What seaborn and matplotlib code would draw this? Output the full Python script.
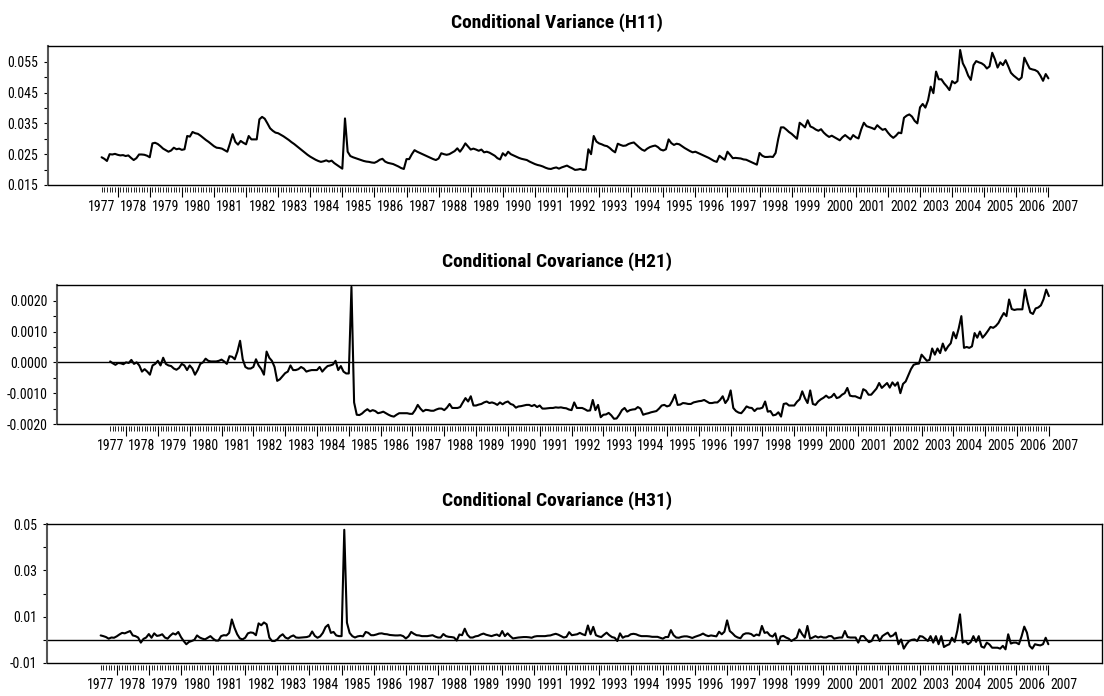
import numpy as np
import pandas as pd
import matplotlib
matplotlib.use("Agg")
import matplotlib.pyplot as plt
import seaborn as sns
from matplotlib import font_manager
from matplotlib.ticker import FixedLocator, FormatStrFormatter, NullLocator

sns.set_style("ticks")

# Prefer a condensed sans face; fall back to a regular one with smaller sizes.
_names = sorted({f.name for f in font_manager.fontManager.ttflist})
_preferred = ["Liberation Sans Narrow", "Arial Narrow", "Roboto Condensed",
              "Open Sans Condensed", "Noto Sans Condensed", "DejaVu Sans Condensed"]
_narrow = [n for n in _preferred if n in _names]
_narrow += [n for n in _names if ("Narrow" in n or "Condensed" in n) and n not in _narrow]
if _narrow:
    FONT = _narrow[0]
    TITLE_SIZE, YTICK_SIZE, YEAR_SIZE = 14, 10, 10
else:
    FONT = "Liberation Sans"
    TITLE_SIZE, YTICK_SIZE, YEAR_SIZE = 12.5, 8.5, 7.6
plt.rcParams["font.family"] = [FONT, "DejaVu Sans"]
plt.rcParams["text.color"] = "black"
plt.rcParams["xtick.color"] = "black"
plt.rcParams["ytick.color"] = "black"

# Monthly observations, July 1977 .. January 2007
first_obs = 1977.5

h11 = [
    0.0240, 0.0235, 0.0228, 0.0250, 0.0249, 0.0251,  # 1977 (Jul-Dec)
    0.0248, 0.0246, 0.0247, 0.0244, 0.0246, 0.0238, 0.0231, 0.0237, 0.0249, 0.0249, 0.0248, 0.0245,
    0.0240, 0.0285, 0.0287, 0.0283, 0.0276, 0.0268, 0.0263, 0.0258, 0.0262, 0.0271, 0.0266, 0.0268,
    0.0264, 0.0266, 0.0309, 0.0307, 0.0322, 0.0318, 0.0316, 0.0310, 0.0303, 0.0296, 0.0290, 0.0283,
    0.0276, 0.0271, 0.0270, 0.0268, 0.0263, 0.0258, 0.0285, 0.0315, 0.0290, 0.0281, 0.0293, 0.0287,
    0.0282, 0.0309, 0.0298, 0.0298, 0.0298, 0.0363, 0.0371, 0.0365, 0.0350, 0.0334, 0.0326, 0.0320,
    0.0318, 0.0313, 0.0308, 0.0302, 0.0296, 0.0289, 0.0283, 0.0276, 0.0269, 0.0262, 0.0255, 0.0248,
    0.0242, 0.0237, 0.0232, 0.0228, 0.0225, 0.0227, 0.0230, 0.0226, 0.0229, 0.0221, 0.0215, 0.0209,
    0.0203, 0.0366, 0.0258, 0.0244, 0.0240, 0.0237, 0.0234, 0.0231, 0.0228, 0.0226, 0.0225, 0.0223,
    0.0222, 0.0226, 0.0232, 0.0235, 0.0226, 0.0222, 0.0220, 0.0218, 0.0214, 0.0210, 0.0205, 0.0202,
    0.0234, 0.0234, 0.0250, 0.0263, 0.0258, 0.0254, 0.0250, 0.0246, 0.0242, 0.0238, 0.0234, 0.0231,
    0.0236, 0.0253, 0.0250, 0.0248, 0.0250, 0.0255, 0.0260, 0.0269, 0.0258, 0.0270, 0.0285, 0.0275,
    0.0265, 0.0268, 0.0265, 0.0261, 0.0265, 0.0256, 0.0258, 0.0255, 0.0250, 0.0245, 0.0237, 0.0233,
    0.0253, 0.0245, 0.0258, 0.0250, 0.0246, 0.0242, 0.0238, 0.0235, 0.0233, 0.0231, 0.0226, 0.0222,
    0.0218, 0.0215, 0.0213, 0.0210, 0.0206, 0.0203, 0.0202, 0.0205, 0.0207, 0.0203, 0.0207, 0.0210,
    0.0213, 0.0208, 0.0204, 0.0199, 0.0200, 0.0202, 0.0199, 0.0200, 0.0266, 0.0250, 0.0309, 0.0291,
    0.0285, 0.0282, 0.0278, 0.0276, 0.0270, 0.0262, 0.0256, 0.0284, 0.0280, 0.0277, 0.0278, 0.0283,
    0.0286, 0.0288, 0.0280, 0.0272, 0.0265, 0.0261, 0.0268, 0.0273, 0.0276, 0.0278, 0.0273, 0.0265,
    0.0262, 0.0266, 0.0298, 0.0286, 0.0280, 0.0284, 0.0282, 0.0276, 0.0270, 0.0265, 0.0260, 0.0256,
    0.0258, 0.0254, 0.0250, 0.0246, 0.0242, 0.0238, 0.0233, 0.0228, 0.0225, 0.0245, 0.0238, 0.0232,
    0.0258, 0.0248, 0.0237, 0.0238, 0.0237, 0.0236, 0.0233, 0.0232, 0.0228, 0.0224, 0.0220, 0.0216,
    0.0254, 0.0245, 0.0241, 0.0241, 0.0242, 0.0241, 0.0254, 0.0300, 0.0337, 0.0337, 0.0330, 0.0322,
    0.0316, 0.0308, 0.0300, 0.0352, 0.0345, 0.0337, 0.0360, 0.0340, 0.0336, 0.0330, 0.0326, 0.0331,
    0.0320, 0.0312, 0.0306, 0.0310, 0.0305, 0.0300, 0.0295, 0.0305, 0.0312, 0.0305, 0.0298, 0.0312,
    0.0305, 0.0301, 0.0330, 0.0352, 0.0341, 0.0338, 0.0335, 0.0331, 0.0344, 0.0336, 0.0329, 0.0332,
    0.0320, 0.0310, 0.0303, 0.0310, 0.0320, 0.0318, 0.0368, 0.0375, 0.0379, 0.0372, 0.0358, 0.0350,
    0.0402, 0.0413, 0.0401, 0.0425, 0.0469, 0.0448, 0.0518, 0.0493, 0.0493, 0.0480, 0.0470, 0.0458,
    0.0487, 0.0480, 0.0487, 0.0588, 0.0545, 0.0528, 0.0505, 0.0491, 0.0539, 0.0552, 0.0548, 0.0545,
    0.0539, 0.0528, 0.0535, 0.0579, 0.0558, 0.0531, 0.0548, 0.0539, 0.0555, 0.0535, 0.0514, 0.0505,
    0.0498, 0.0491, 0.0499, 0.0563, 0.0545, 0.0528, 0.0525, 0.0523, 0.0518, 0.0505, 0.0488, 0.0510,
    0.0496,  # 2007 (Jan)
]

# covariance H21, in units of 1e-3
h21_milli = [
    0.03, -0.03, -0.08, -0.02, -0.03, -0.06,
    0.00, -0.02, 0.08, -0.05, 0.00, -0.10, -0.30, -0.22, -0.30, -0.40, -0.10, -0.05,
    0.05, -0.10, 0.15, -0.05, -0.10, -0.12, -0.20, -0.24, -0.18, -0.05, -0.10, -0.25,
    -0.10, -0.20, -0.40, -0.25, -0.05, 0.00, 0.12, 0.05, 0.03, 0.03, 0.03, 0.05,
    0.09, 0.03, -0.05, 0.20, 0.18, 0.10, 0.35, 0.70, 0.10, -0.15, -0.20, -0.20,
    -0.15, 0.10, -0.10, -0.22, -0.40, 0.35, 0.15, 0.05, -0.15, -0.60, -0.55, -0.45,
    -0.35, -0.30, -0.10, -0.25, -0.25, -0.22, -0.15, -0.20, -0.30, -0.27, -0.25, -0.25,
    -0.25, -0.15, -0.30, -0.20, -0.12, -0.10, -0.07, 0.05, -0.25, -0.12, -0.30, -0.36,
    -0.36, 2.45, -1.30, -1.70, -1.71, -1.66, -1.58, -1.52, -1.59, -1.55, -1.58, -1.65,
    -1.63, -1.60, -1.65, -1.70, -1.74, -1.76, -1.70, -1.65, -1.65, -1.65, -1.65, -1.67,
    -1.67, -1.55, -1.38, -1.50, -1.59, -1.54, -1.55, -1.57, -1.57, -1.53, -1.50, -1.50,
    -1.55, -1.47, -1.35, -1.48, -1.48, -1.48, -1.45, -1.30, -1.16, -1.27, -1.10, -1.40,
    -1.40, -1.37, -1.35, -1.30, -1.27, -1.32, -1.30, -1.33, -1.38, -1.30, -1.36, -1.30,
    -1.27, -1.35, -1.38, -1.47, -1.43, -1.42, -1.40, -1.38, -1.38, -1.42, -1.38, -1.45,
    -1.40, -1.50, -1.50, -1.49, -1.48, -1.48, -1.46, -1.47, -1.46, -1.48, -1.49, -1.53,
    -1.55, -1.30, -1.48, -1.48, -1.48, -1.52, -1.57, -1.56, -1.22, -1.55, -1.38, -1.78,
    -1.70, -1.69, -1.64, -1.72, -1.83, -1.82, -1.70, -1.55, -1.48, -1.60, -1.55, -1.53,
    -1.52, -1.45, -1.50, -1.70, -1.67, -1.65, -1.62, -1.60, -1.58, -1.50, -1.40, -1.38,
    -1.43, -1.40, -1.25, -1.05, -1.38, -1.37, -1.32, -1.33, -1.35, -1.35, -1.30, -1.28,
    -1.26, -1.25, -1.22, -1.27, -1.32, -1.32, -1.30, -1.30, -1.22, -1.10, -1.32, -1.20,
    -0.91, -1.48, -1.58, -1.63, -1.65, -1.55, -1.43, -1.47, -1.48, -1.58, -1.50, -1.50,
    -1.47, -1.27, -1.60, -1.58, -1.72, -1.70, -1.62, -1.76, -1.35, -1.33, -1.40, -1.40,
    -1.40, -1.28, -1.20, -0.94, -1.16, -1.32, -0.91, -1.35, -1.38, -1.27, -1.20, -1.15,
    -1.08, -1.15, -1.12, -1.02, -1.16, -1.13, -1.05, -1.00, -0.83, -1.08, -1.10, -1.10,
    -1.14, -1.17, -0.87, -0.92, -1.05, -1.05, -0.95, -0.85, -0.67, -0.83, -0.75, -0.67,
    -0.82, -0.65, -0.76, -0.65, -1.00, -0.70, -0.62, -0.42, -0.22, -0.08, -0.05, -0.04,
    0.25, 0.15, 0.05, 0.08, 0.45, 0.25, 0.45, 0.30, 0.61, 0.38, 0.52, 0.62,
    0.98, 0.78, 1.10, 1.50, 0.47, 0.50, 0.47, 0.52, 0.95, 0.80, 1.00, 0.80,
    0.90, 1.02, 1.15, 1.12, 1.18, 1.28, 1.45, 1.60, 1.50, 2.04, 1.73, 1.70,
    1.72, 1.72, 1.72, 2.36, 1.95, 1.62, 1.57, 1.75, 1.78, 1.85, 2.05, 2.36,
    2.15,
]

# covariance H31, in units of 1e-3
h31_milli = [
    1.9, 1.6, 1.2, 0.5, 1.0, 0.9,
    1.5, 2.3, 3.0, 2.8, 3.3, 3.8, 1.9, 1.6, 1.0, -1.2, 0.4, 1.0,
    2.5, 0.9, 2.8, 1.7, 1.9, 2.4, 1.0, 0.5, 1.8, 2.8, 2.3, 3.4,
    1.2, -0.5, -1.9, -0.9, -0.5, 0.0, 1.9, 1.0, 0.5, 0.2, 0.9, 1.6,
    0.5, -0.3, -0.3, 1.6, 2.0, 1.9, 3.0, 8.8, 5.2, 2.4, 0.6, 0.2,
    0.9, 2.8, 3.2, 3.0, 2.0, 7.1, 6.3, 7.5, 6.7, 1.0, -0.5, -0.5,
    0.2, 1.6, 2.4, 1.0, 0.5, 1.4, 1.9, 1.0, 0.9, 1.0, 1.1, 1.2,
    1.6, 3.6, 1.7, 0.9, 1.5, 3.0, 5.5, 6.5, 3.0, 3.4, 1.9, 1.6,
    1.6, 47.5, 7.4, 3.0, 1.6, 1.0, 1.5, 1.7, 1.5, 3.4, 3.0, 2.0,
    2.0, 2.3, 2.7, 2.8, 2.5, 2.4, 2.1, 2.0, 1.9, 1.9, 2.0, 1.6,
    0.6, 1.5, 3.4, 2.6, 2.0, 1.9, 1.6, 1.6, 1.6, 1.8, 2.0, 1.4,
    1.0, 1.0, 2.5, 1.6, 1.3, 1.2, 1.0, -0.3, 2.3, 2.0, 4.8, 2.2,
    1.0, 1.0, 1.5, 1.7, 2.3, 2.7, 2.2, 1.9, 1.6, 2.0, 2.3, 1.6,
    3.8, 1.6, 2.8, 1.6, 0.6, 0.8, 1.0, 1.1, 1.2, 1.2, 1.1, 0.9,
    1.4, 1.6, 1.6, 1.6, 1.6, 1.8, 1.9, 2.3, 2.6, 2.2, 1.6, 1.0,
    1.3, 3.3, 2.0, 2.2, 2.4, 3.0, 2.4, 2.0, 6.2, 2.4, 5.6, 2.0,
    1.5, 1.2, 2.2, 3.1, 2.0, 1.2, 0.9, -0.5, 2.8, 0.9, 1.5, 1.6,
    2.4, 2.6, 2.4, 1.9, 1.6, 1.6, 1.6, 1.5, 1.3, 1.3, 1.3, 0.9,
    0.5, 1.2, 1.2, 4.2, 2.0, 1.0, 0.9, 1.3, 1.5, 1.5, 1.2, 0.8,
    1.3, 1.7, 2.1, 2.7, 2.0, 1.6, 1.9, 1.7, 1.5, 3.5, 2.4, 3.5,
    8.4, 3.8, 2.8, 1.6, 1.0, 0.7, 2.3, 2.8, 2.8, 2.5, 1.6, 2.3,
    1.9, 6.0, 3.0, 3.3, 1.9, 1.4, 2.8, -1.9, 1.4, 1.7, 1.0, 0.5,
    -0.5, 0.2, 1.0, 4.5, 2.5, 1.0, 6.0, 0.5, 1.0, 1.6, 1.0, 1.4,
    1.0, 1.0, 1.6, 1.6, 0.5, 0.8, 1.0, 1.0, 3.8, 1.2, 1.0, 1.0,
    1.0, -1.2, 1.6, 1.6, 0.2, -1.0, -0.5, 1.9, 2.0, -0.5, 1.6, 2.4,
    3.1, 1.4, 1.9, 3.1, -1.9, 0.2, -3.8, -1.9, -0.5, 0.0, 0.2, -0.5,
    1.6, 1.4, 0.5, -0.5, 1.6, -1.2, 1.6, -1.9, 1.6, -3.1, -2.4, -1.9,
    0.9, -0.9, 4.0, 11.0, -1.2, -0.5, -1.9, -1.0, 1.6, -0.9, 1.6, -2.9,
    -3.4, -1.2, -2.0, -3.4, -3.4, -3.4, -3.8, -2.6, -4.1, 2.4, -1.6, -1.2,
    -1.2, -1.9, 1.5, 5.7, 3.1, -2.6, -3.8, -1.9, -2.2, -2.4, -1.9, 0.9,
    -1.9,
]

year_labels = [str(y) for y in range(1977, 2008)]
titles = ["Conditional Variance (H11)",
          "Conditional Covariance (H21)",
          "Conditional Covariance (H31)"]

n = len(h11)
t = first_obs + np.arange(n) / 12.0
df = pd.DataFrame({
    "t": t,
    "H11": h11,
    "H21": np.array(h21_milli) * 1e-3,
    "H31": np.array(h31_milli) * 1e-3,
})

W, H = 1104, 696
fig = plt.figure(figsize=(W / 100, H / 100), dpi=100)

# (column, left, top, right, bottom) in pixels, y limits, labelled ticks, minor ticks, format, zero line
panels = [
    ("H11", 48, 46, 1102, 185, (0.015, 0.0601),
     [0.015, 0.025, 0.035, 0.045, 0.055], [0.02, 0.03, 0.04, 0.05], "%.3f", False),
    ("H21", 57, 285, 1102, 424, (-0.002, 0.00251),
     [-0.002, -0.001, 0.0, 0.001, 0.002], [-0.0015, -0.0005, 0.0005, 0.0015], "%.4f", True),
    ("H31", 47, 524, 1102, 663, (-0.01, 0.05),
     [-0.01, 0.01, 0.03, 0.05], [0.0, 0.02, 0.04], "%.2f", True),
]

xlim = (1975.83, 2008.67)
year_starts = np.arange(1978, 2008)
label_pos = np.arange(1977, 2008) + 0.5

for (col, l, tp, r, b, ylim, yt, ytm, fmt, zero), title in zip(panels, titles):
    ax = fig.add_axes([l / W, 1 - b / H, (r - l) / W, (b - tp) / H])
    sns.lineplot(data=df, x="t", y=col, ax=ax, color="black", linewidth=1.5)
    if zero:
        ax.axhline(0.0, color="black", linewidth=1.0, zorder=1)
    ax.set_xlim(*xlim)
    ax.set_ylim(*ylim)
    ax.set_xlabel("")
    ax.set_ylabel("")

    # x axis: yearly major ticks, monthly minor ticks, no labels
    ax.xaxis.set_major_locator(FixedLocator(year_starts))
    ax.xaxis.set_minor_locator(FixedLocator(t))
    ax.tick_params(axis="x", which="major", direction="out", length=7.2, width=0.8,
                   labelbottom=False, color="black")
    ax.tick_params(axis="x", which="minor", direction="out", length=3.6, width=0.6,
                   color="black")
    ax.spines["bottom"].set_position(("outward", 1.5))
    ax.spines["bottom"].set_visible(False)
    ax.axhline(ylim[0], color="black", linewidth=1.0, clip_on=False, zorder=3)

    # year labels centred within each year
    sec = ax.secondary_xaxis("bottom")
    sec.set_xticks(label_pos, labels=year_labels)
    sec.xaxis.set_minor_locator(NullLocator())
    sec.tick_params(axis="x", length=0, pad=11.0, labelsize=YEAR_SIZE, colors="black")
    sec.spines["bottom"].set_visible(False)

    # y axis
    ax.yaxis.set_major_locator(FixedLocator(yt))
    ax.yaxis.set_minor_locator(FixedLocator(ytm))
    ax.yaxis.set_major_formatter(FormatStrFormatter(fmt))
    ax.tick_params(axis="y", which="both", direction="out", length=3.0, width=0.8,
                   pad=4.0, labelsize=YTICK_SIZE, colors="black")

    for side in ("top", "right"):
        ax.spines[side].set_color("black")
        ax.spines[side].set_linewidth(1.0)
    ax.spines["left"].set_color("#555555")
    ax.spines["left"].set_linewidth(1.5)

    ax.set_title(title, fontsize=TITLE_SIZE, fontweight="bold", pad=13,
                 x=(557 - l) / (r - l), color="black")

fig.savefig("out.png", dpi=100)
